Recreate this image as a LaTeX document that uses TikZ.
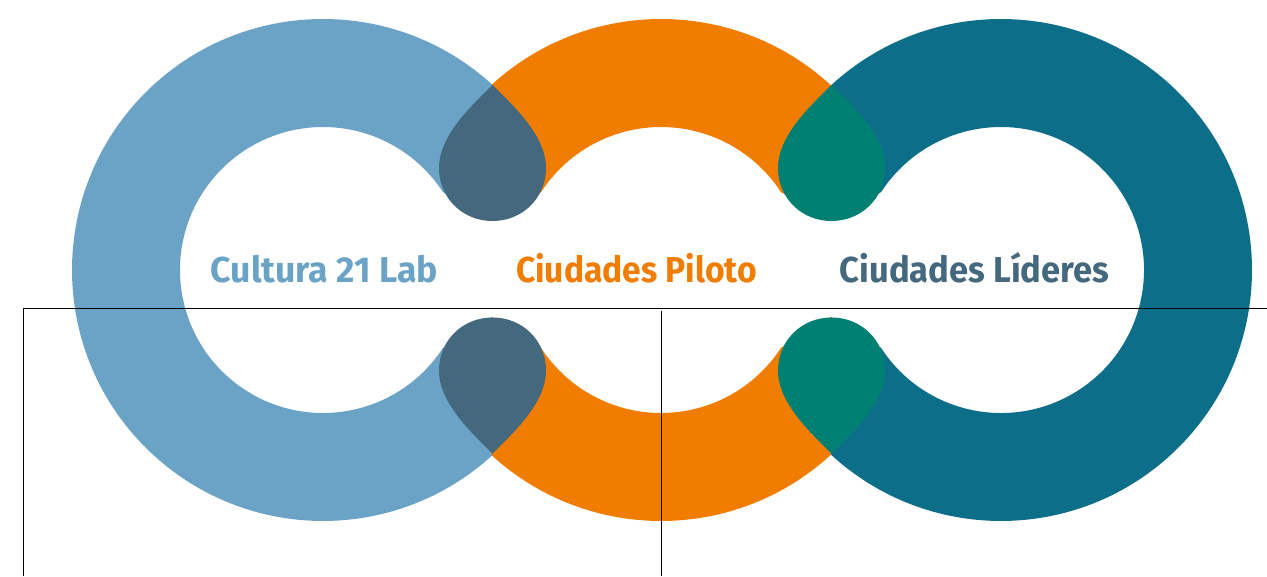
\documentclass[tikz,border=0pt]{standalone}
\usepackage{fontspec}
\setmainfont{Fira Sans}
\usetikzlibrary{positioning}
\definecolor{cultura}{HTML}{6BA3C6}
\definecolor{piloto}{HTML}{F07D00}
\definecolor{lideres}{HTML}{0D6E8A}
\definecolor{dropblue}{HTML}{44687D}
\definecolor{dropgreen}{HTML}{008072}

\begin{document}
\begin{tikzpicture}[x=1pt,y=1pt]
\tikzstyle{lbl} = [anchor=base,inner sep=0pt,font=\fontsize{36}{36}\selectfont\bfseries]
\useasboundingbox (0,-306) rectangle (1267,270);

% rings
\fill[cultura] ([shift={(323,0)}]47.68:251) arc[start angle=47.68,end angle=312.32,radius=251]
-- (492,-47) -- ([shift={(323,0)}]327:143) arc[start angle=327,end angle=33,radius=143]
-- (492,49) -- cycle;
\fill[piloto] ([shift={(661,0)}]132.32:251) arc[start angle=132.32,end angle=47.37,radius=251]
-- (831,49) -- ([shift={(661,0)}]33:143) arc[start angle=33,end angle=147,radius=143]
-- (492,49) -- cycle;
\fill[piloto] ([shift={(661,0)}]-132.32:251) arc[start angle=-132.32,end angle=-47.37,radius=251]
-- (831,-47) -- ([shift={(661,0)}]-33:143) arc[start angle=-33,end angle=-147,radius=143]
-- (492,-47) -- cycle;
\fill[lideres] ([shift={(1001,0)}]132.63:251) arc[start angle=132.63,end angle=-132.63,radius=251]
-- (831,-47) -- ([shift={(1001,0)}]-147:143) arc[start angle=-147,end angle=147,radius=143]
-- (831,49) -- cycle;

% drops
\foreach \x/\s/\d/\c in {492.5/1/0/dropblue, 492.5/-1/1.5/dropblue, 831.5/1/0/dropgreen, 831.5/-1/1.5/dropgreen} {
\fill[\c] (\x,\s*185+\d)
.. controls (\x+20,\s*165+\d) and (\x+53.5,\s*135+\d) .. (\x+53.5,\s*102+\d)
.. controls (\x+53.5,\s*72+\d) and (\x+30,\s*49+\d) .. (\x,\s*49+\d)
.. controls (\x-30,\s*49+\d) and (\x-53.5,\s*72+\d) .. (\x-53.5,\s*102+\d)
.. controls (\x-53.5,\s*135+\d) and (\x-20,\s*165+\d) .. (\x,\s*185+\d) -- cycle;
}

\node[lbl,text=cultura,xscale=0.99] (cultura21) at (324.5,-12) {Cultura 21 Lab};
\node[lbl,text=piloto,xscale=0.934] (ciudadespiloto) at (636.5,-12) {Ciudades Piloto};
\node[lbl,text=dropblue,xscale=0.96] (ciudadeslideres) at (974.5,-12) {Ciudades Líderes};

% frame lines
\draw[line width=0.8pt] (23,-306) -- (23,-38) -- (1267,-38);
\draw[line width=0.8pt] (661,-41) -- (661,-306);

\end{tikzpicture}
\end{document}
